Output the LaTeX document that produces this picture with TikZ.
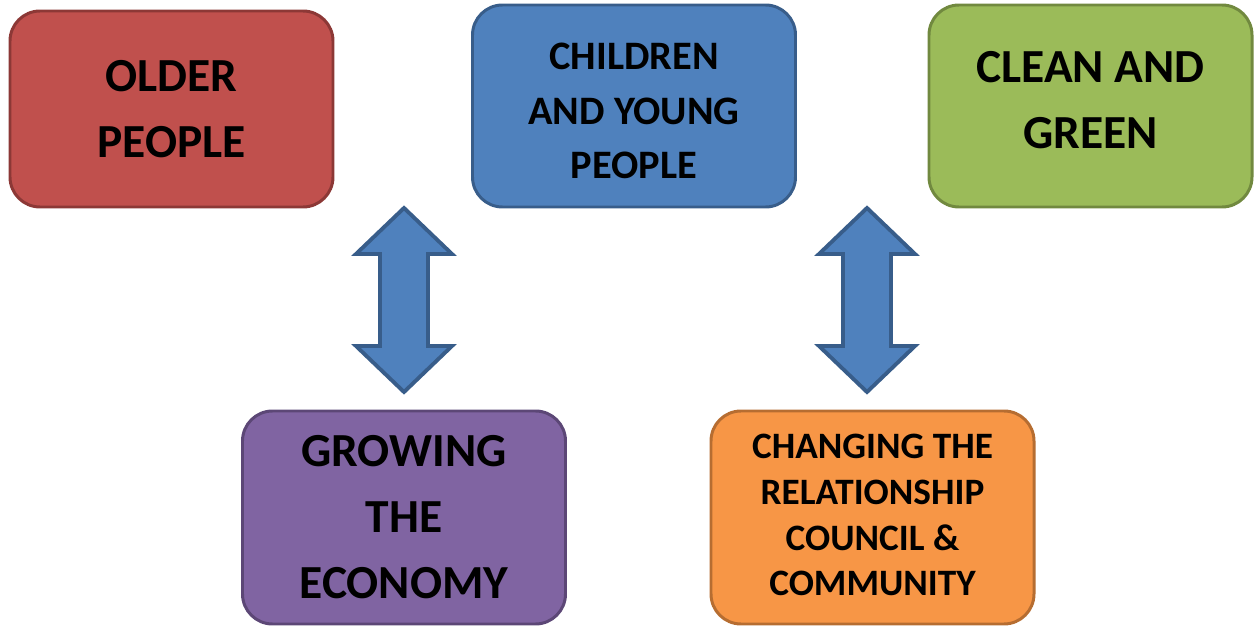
\documentclass[tikz,border=0pt]{standalone}
\usepackage{fontspec}
\setmainfont{Carlito}
\usepackage{tikz}
\definecolor{redfill}{HTML}{C0504D}
\definecolor{redline}{HTML}{8C3836}
\definecolor{bluefill}{HTML}{4F81BD}
\definecolor{blueline}{HTML}{385D8A}
\definecolor{greenfill}{HTML}{9BBB59}
\definecolor{greenline}{HTML}{71893F}
\definecolor{purplefill}{HTML}{8064A2}
\definecolor{purpleline}{HTML}{5C4776}
\definecolor{orangefill}{HTML}{F79646}
\definecolor{orangeline}{HTML}{B66D31}

\begin{document}
\begin{tikzpicture}[box/.style={draw,line width=1.7pt,rounded corners=0.6cm,minimum width=6.46cm,align=center,inner sep=0pt},
  bigtext/.style={font=\fontsize{27}{37.5}\selectfont\bfseries},
  blockarrow/.style={draw=blueline,fill=bluefill,line width=2.2pt,line join=miter}]
\useasboundingbox (0,0) rectangle (25.1,12.52);
% top row
\node[box,bigtext,fill=redfill,draw=redline,minimum height=3.92cm](older) at (3.43,10.34){OLDER\\PEOPLE};
\node[box,fill=bluefill,draw=blueline,minimum height=4.04cm,text height=2.9cm,text depth=0cm,font=\fontsize{23}{31}\selectfont\bfseries](children) at (12.68,10.40){CHILDREN\\AND YOUNG\\PEOPLE};
\node[box,bigtext,fill=greenfill,draw=greenline,minimum height=4.04cm,text depth=0.26cm](clean) at (21.81,10.40){CLEAN AND\\GREEN};
% bottom row
\node[box,bigtext,fill=purplefill,draw=purpleline,minimum height=4.26cm](growing) at (8.08,2.17){GROWING\\THE\\ECONOMY};
\node[box,fill=orangefill,draw=orangeline,minimum height=4.26cm,text depth=0.1cm,font=\fontsize{21.2}{26}\selectfont\bfseries](changing) at (17.45,2.17){CHANGING THE\\RELATIONSHIP\\COUNCIL \&\\COMMUNITY};
% arrows
\foreach \n/\x in {leftarrow/8.08,rightarrow/17.34}{
  \coordinate (\n) at (\x,6.52);
  \draw[blockarrow] (\n) ++(0,1.84) -- ++(-0.96,-0.92) -- ++(0.48,0) -- ++(0,-1.84) -- ++(-0.48,0) -- ++(0.96,-0.92)
    -- ++(0.96,0.92) -- ++(-0.48,0) -- ++(0,1.84) -- ++(0.48,0) -- cycle;
}
\end{tikzpicture}
\end{document}
